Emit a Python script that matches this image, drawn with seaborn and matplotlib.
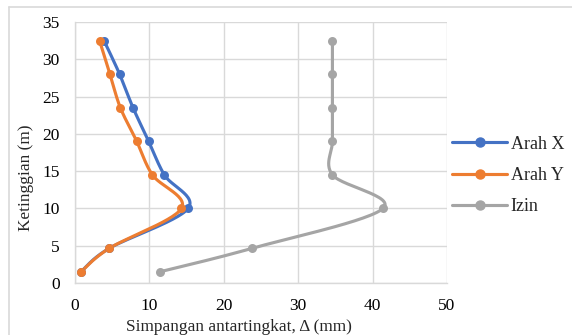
import numpy as np
import pandas as pd
import matplotlib
matplotlib.use("Agg")
import matplotlib.pyplot as plt
from matplotlib.lines import Line2D
import seaborn as sns

# data
ketinggian = [1.5, 4.65, 10.0, 14.5, 19.0, 23.5, 28.0, 32.5]
arah_x = [0.8, 4.6, 15.2, 12.0, 9.9, 7.8, 6.0, 3.9]
arah_y = [0.8, 4.6, 14.3, 10.4, 8.3, 6.1, 4.7, 3.3]
izin = [11.4, 23.8, 41.4, 34.6, 34.6, 34.6, 34.6, 34.6]

SERIES = [("Arah X", arah_x, "#4472C4"),
          ("Arah Y", arah_y, "#ED7D31"),
          ("Izin", izin, "#A5A5A5")]


def smooth_curve(xs, ys, n=30):
    """Catmull-Rom style smoothing, like Excel's smoothed line."""
    p = np.column_stack([xs, ys]).astype(float)
    pts = [p[0]]
    for i in range(len(p) - 1):
        p0 = p[i - 1] if i > 0 else p[i]
        p3 = p[i + 2] if i + 2 < len(p) else p[i + 1]
        p1, p2 = p[i], p[i + 1]
        c1 = p1 + (p2 - p0) / 6
        c2 = p2 - (p3 - p1) / 6
        t = np.linspace(0, 1, n)[1:, None]
        seg = ((1 - t) ** 3) * p1 + 3 * ((1 - t) ** 2) * t * c1 \
            + 3 * (1 - t) * t ** 2 * c2 + t ** 3 * p2
        pts.extend(seg)
    pts = np.array(pts)
    return pts[:, 0], pts[:, 1]


sns.set_style("white")
plt.rcParams["font.family"] = ["Liberation Serif", "DejaVu Serif"]

fig = plt.figure(figsize=(5.72, 3.35), dpi=100)
ax = fig.add_axes([75 / 572, 1 - 283 / 335, 372 / 572, 261 / 335])

handles = []
for name, vals, color in SERIES:
    sx, sy = smooth_curve(vals, ketinggian)
    curve = pd.DataFrame({"x": sx, "y": sy})
    sns.lineplot(data=curve, x="x", y="y", sort=False, estimator=None,
                 color=color, linewidth=2.25, ax=ax)
    pts = pd.DataFrame({"x": vals, "y": ketinggian})
    sns.scatterplot(data=pts, x="x", y="y", color=color, s=42,
                    edgecolor=color, linewidth=0, ax=ax, zorder=3)
    handles.append(Line2D([], [], color=color, linewidth=2.25, marker="o",
                          markersize=6.5, label=name))

ax.set_xlim(0, 50)
ax.set_ylim(0, 35)
ax.set_xticks(range(0, 51, 10))
ax.set_yticks(range(0, 36, 5))
ax.grid(True, color="#d9d9d9", linewidth=1)
for side in ["top", "right"]:
    ax.spines[side].set_visible(False)
for side in ["left", "bottom"]:
    ax.spines[side].set_color("#d9d9d9")
    ax.spines[side].set_linewidth(1)
ax.tick_params(length=0, labelsize=12.5, colors="black")
ax.tick_params(axis="x", pad=10.5)
ax.tick_params(axis="y", pad=11)
ax.set_xlabel("Simpangan antartingkat, Δ (mm)", fontsize=12.4, va="center")
ax.xaxis.set_label_coords(0.441, -0.169)
ax.set_ylabel("Ketinggian (m)", fontsize=12.4, va="center")
ax.yaxis.set_label_coords(-0.132, 0.402)

fig.legend(handles=handles, loc="center left",
           bbox_to_anchor=(452 / 572, 1 - 175.5 / 335),
           frameon=False, fontsize=13, handlelength=3.05, handletextpad=0.2,
           labelspacing=0.8, borderpad=0, borderaxespad=0)

# chart border like the Excel chart area
fig.add_artist(Line2D([9 / 572, 1], [1 - 7 / 335, 1 - 7 / 335],
                      color="#d9d9d9", linewidth=1.2))
fig.add_artist(Line2D([9 / 572, 9 / 572], [0, 1 - 7 / 335],
                      color="#d9d9d9", linewidth=1.2))

fig.savefig("out.png", dpi=100, facecolor="white")
